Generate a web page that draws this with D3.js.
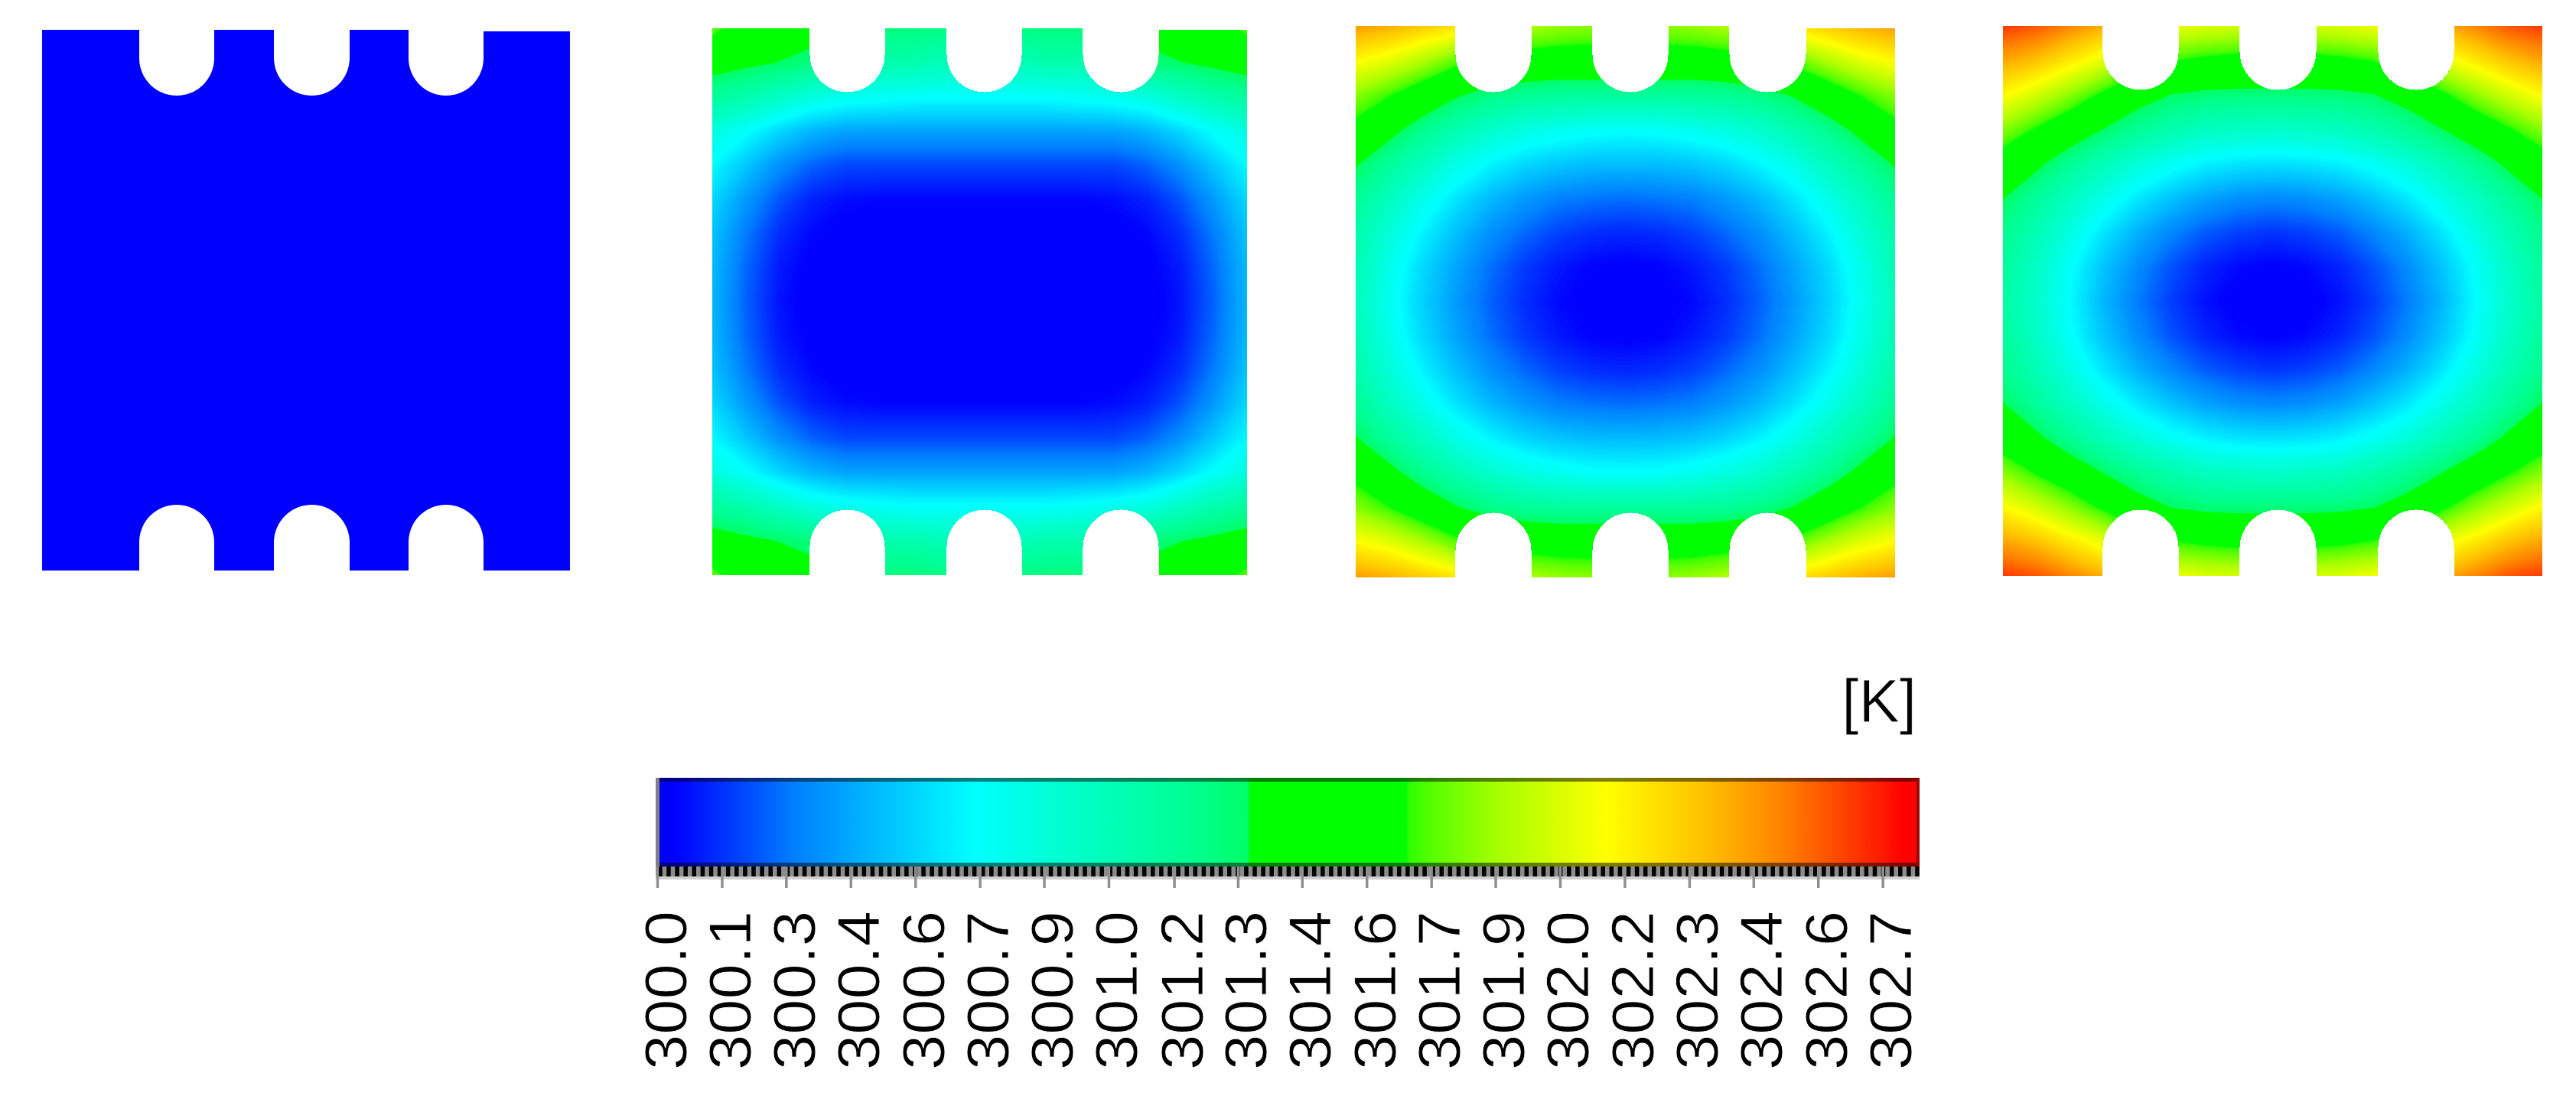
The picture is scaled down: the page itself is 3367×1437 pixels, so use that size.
<!DOCTYPE html>
<html>
<head>
<meta charset="utf-8">
<script src="https://cdn.jsdelivr.net/npm/d3@7"></script>
<style>
html,body{margin:0;padding:0;background:#fff;overflow:hidden}
svg{display:block}
text{font-family:"Liberation Sans",Arial,sans-serif;fill:#000}
</style>
</head>
<body>
<svg id="chart" width="3367" height="1437"></svg>
<script>
// ---- DATA ----------------------------------------------------------------
const unitLabel = "[K]";
const tickValues = [300.000,300.144,300.287,300.431,300.575,300.719,300.862,301.006,301.152,301.294,
                    301.437,301.581,301.725,301.868,302.012,302.156,302.300,302.443,302.587,302.731];
const colorKelvin = [300.000,300.041,300.194,300.309,300.479,300.708,300.899,301.195,301.315,301.322,
                     301.669,301.676,301.741,301.877,302.114,302.338,302.513,302.684,302.781,302.810];
const colorValues = ["#0000ff","#0000ff","#0048ff","#0080ff","#00b8ff","#00ffff","#00ffd0","#00ff90","#00ff68","#00ff00",
                     "#00ff00","#30ff00","#60ff00","#a8ff00","#ffff00","#ffc000","#ff8000","#ff3000","#ff0000","#ff0000"];

// Temperature, as a share of the colour-bar range.
// One quadrant per plate: rows run from the outer edge to mid-height, columns from the side edge to mid-width.
const plate1Levels = [
  [0,0,0,0,0,0,0,0,0],[0,0,0,0,0,0,0,0,0],[0,0,0,0,0,0,0,0,0],
  [0,0,0,0,0,0,0,0,0],[0,0,0,0,0,0,0,0,0],[0,0,0,0,0,0,0,0,0],
  [0,0,0,0,0,0,0,0,0],[0,0,0,0,0,0,0,0,0],[0,0,0,0,0,0,0,0,0]];
const plate2Levels = [
  [.62,.55,.52,.50,.46,.45,.45,.44,.43],
  [.51,.49,.47,.45,.40,.38,.38,.36,.35],
  [.41,.38,.34,.30,.28,.27,.26,.26,.26],
  [.30,.26,.21,.17,.15,.15,.15,.15,.15],
  [.25,.19,.13,.09,.07,.07,.07,.07,.07],
  [.21,.14,.08,.04,.025,.02,.02,.02,.02],
  [.185,.11,.05,.02,.005,0,0,0,0],
  [.175,.095,.035,.01,0,0,0,0,0],
  [.17,.09,.03,.005,0,0,0,0,0]];
const plate3Levels = [
  [.87,.85,.82,.79,.74,.68,.66,.65,.65],
  [.76,.73,.68,.62,.58,.56,.55,.55,.55],
  [.65,.60,.54,.48,.44,.42,.41,.41,.41],
  [.57,.50,.43,.375,.33,.30,.28,.265,.26],
  [.48,.41,.35,.29,.245,.21,.19,.18,.18],
  [.42,.35,.285,.225,.175,.14,.115,.105,.10],
  [.385,.31,.24,.18,.13,.095,.065,.05,.045],
  [.37,.285,.21,.15,.10,.06,.033,.017,.011],
  [.36,.275,.20,.14,.09,.05,.022,.006,0]];
const plate4Levels = [
  [.95,.93,.89,.85,.80,.74,.72,.71,.71],
  [.86,.83,.78,.73,.66,.60,.58,.57,.57],
  [.76,.71,.65,.58,.51,.47,.455,.45,.45],
  [.65,.59,.53,.47,.42,.38,.35,.34,.335],
  [.55,.49,.42,.36,.31,.27,.24,.225,.22],
  [.475,.41,.345,.285,.23,.185,.15,.13,.123],
  [.43,.365,.295,.225,.165,.12,.085,.065,.055],
  [.41,.34,.26,.185,.125,.078,.042,.022,.014],
  [.40,.33,.25,.17,.11,.062,.028,.007,0]];
const plateLevels = [plate1Levels, plate2Levels, plate3Levels, plate4Levels];

// ---- LAYOUT --------------------------------------------------------------
const plateLeft   = [55, 931, 1772, 2618];
const plateRight  = [745, 1630, 2477, 3323];
const plateTop    = [39, 37, 34, 34];
const plateBottom = [746, 752, 755, 753];
const rightTabDrop = [2, 2, 3, 0];
const topTip      = [125, 121, 121, 118];
const bottomTip   = [660, 666, 670, 666];
const slotEdges = [
  [182,280,358,457,534,632],
  [1058,1157,1237,1336,1415,1515],
  [1902,2002,2081,2181,2260,2361],
  [2748,2848,2927,3028,3108,3208]];

const barLeft = 862, barRight = 2505, barTop = 1017, barBottom = 1133, stripH = 5;
const scaleStartPx = 859, scaleEndPx = 2507;
const kelvinMin = 300, kelvinMax = 302.81;
const minorStepKelvin = 0.01893;

// ---- SCALES --------------------------------------------------------------
const levelToKelvin = d3.scaleLinear([0, 1], [kelvinMin, kelvinMax]);
const color = d3.scaleLinear().domain(colorKelvin).range(colorValues).interpolate(d3.interpolateRgb);
const xBar = d3.scaleLinear([kelvinMin, kelvinMax], [scaleStartPx, scaleEndPx]);

const svg = d3.select("#chart");
const defs = svg.append("defs");

// ---- PLATES --------------------------------------------------------------
function platePath(i) {
  const p = d3.path(), L = plateLeft[i], R = plateRight[i], T = plateTop[i], B = plateBottom[i], s = slotEdges[i];
  p.moveTo(L, T);
  for (let k = 0; k < 6; k += 2) {
    const r = (s[k + 1] - s[k]) / 2, c = s[k] + r;
    p.lineTo(s[k], T);
    p.lineTo(s[k], topTip[i] - r);
    p.arc(c, topTip[i] - r, r, Math.PI, 0, true);
    p.lineTo(s[k + 1], k === 4 ? T + rightTabDrop[i] : T);
  }
  p.lineTo(R, T + rightTabDrop[i]);
  p.lineTo(R, B);
  for (let k = 4; k >= 0; k -= 2) {
    const r = (s[k + 1] - s[k]) / 2, c = s[k] + r;
    p.lineTo(s[k + 1], B);
    p.lineTo(s[k + 1], bottomTip[i] + r);
    p.arc(c, bottomTip[i] + r, r, 0, -Math.PI, true);
    p.lineTo(s[k], B);
  }
  p.lineTo(L, B);
  p.closePath();
  return p.toString();
}

const thresholds = d3.range(0.004, 1, 0.004);

plateLevels.forEach((quadrant, i) => {
  const rows = quadrant.concat(quadrant.slice(0, -1).reverse())
    .map(r => r.concat(r.slice(0, -1).reverse()));
  const n = rows[0].length, m = rows.length;
  const grid = rows.flat();

  defs.append("clipPath").attr("id", "plate" + i).append("path").attr("d", platePath(i));
  const g = svg.append("g").attr("clip-path", `url(#plate${i})`);

  const sx = d3.scaleLinear([0.5, n - 0.5], [plateLeft[i], plateRight[i]]);
  const sy = d3.scaleLinear([0.5, m - 0.5], [plateTop[i], plateBottom[i]]);
  const path = d3.geoPath(d3.geoTransform({
    point(x, y) { this.stream.point(sx(x), sy(y)); }
  }));

  g.append("rect")
    .attr("x", plateLeft[i]).attr("y", plateTop[i])
    .attr("width", plateRight[i] - plateLeft[i]).attr("height", plateBottom[i] - plateTop[i])
    .attr("fill", color(levelToKelvin(0)));

  g.selectAll("path")
    .data(d3.contours().size([n, m]).smooth(true).thresholds(thresholds)(grid).filter(c => c.coordinates.length))
    .join("path")
    .attr("d", path)
    .attr("fill", d => color(levelToKelvin(d.value)));
});

// ---- COLOUR BAR ----------------------------------------------------------
const grad = defs.append("linearGradient").attr("id", "barGrad")
  .attr("gradientUnits", "userSpaceOnUse")
  .attr("x1", scaleStartPx).attr("x2", scaleEndPx).attr("y1", 0).attr("y2", 0);
colorKelvin.forEach((k, i) => {
  grad.append("stop")
    .attr("offset", (xBar(k) - scaleStartPx) / (scaleEndPx - scaleStartPx))
    .attr("stop-color", colorValues[i]);
});

const bar = svg.append("g");
bar.append("rect").attr("x", barLeft).attr("y", barTop)
  .attr("width", barRight - barLeft).attr("height", barBottom - barTop).attr("fill", "url(#barGrad)");
bar.append("rect").attr("x", barLeft).attr("y", barTop)
  .attr("width", barRight - barLeft).attr("height", stripH).attr("fill", "rgba(0,0,0,0.5)");
bar.append("rect").attr("x", barLeft).attr("y", barBottom - stripH)
  .attr("width", barRight - barLeft).attr("height", stripH).attr("fill", "rgba(0,0,0,0.5)");
bar.append("rect").attr("x", barLeft - 5).attr("y", barTop)
  .attr("width", 5).attr("height", barBottom - barTop).attr("fill", "#808080");
bar.append("rect").attr("x", barRight).attr("y", barTop)
  .attr("width", 4).attr("height", barBottom - barTop).attr("fill", "#9c0808");

// minor tick comb
bar.append("rect").attr("x", barLeft - 5).attr("y", barBottom)
  .attr("width", barRight - barLeft + 9).attr("height", 13).attr("fill", "#8c8c8c");
bar.append("rect").attr("x", barLeft - 5).attr("y", barBottom + 13)
  .attr("width", barRight - barLeft + 9).attr("height", 4).attr("fill", "#cfcfcf");
const minorTicks = d3.range(kelvinMin + 0.0066, kelvinMax, minorStepKelvin);
bar.selectAll("line.minor").data(minorTicks).join("line")
  .attr("class", "minor")
  .attr("x1", d => xBar(d)).attr("x2", d => xBar(d))
  .attr("y1", barBottom).attr("y2", barBottom + 13)
  .attr("stroke", "#000").attr("stroke-width", 5.5);

// major ticks + labels
const axis = d3.axisBottom(xBar).tickValues(tickValues).tickFormat(d3.format(".1f")).tickSize(28).tickSizeOuter(0);
const axisG = svg.append("g").attr("transform", `translate(0,${barBottom})`).call(axis);
axisG.select(".domain").remove();
axisG.selectAll(".tick line").attr("stroke", "#909090").attr("stroke-width", 3.5);
axisG.selectAll(".tick text")
  .attr("x", 0).attr("y", 0).attr("dy", null)
  .attr("text-anchor", "start")
  .attr("transform", `translate(37,266) rotate(-90)`)
  .attr("font-size", 78)
  .attr("textLength", 208)
  .attr("lengthAdjust", "spacingAndGlyphs")
  .style("font-family", '"Liberation Sans",Arial,sans-serif')
  .style("fill", "#000")
  .style("stroke", "#fff").style("stroke-width", 0.8);

svg.append("text")
  .attr("x", 2505).attr("y", 944)
  .attr("text-anchor", "end")
  .attr("font-size", 80)
  .style("stroke", "#fff").style("stroke-width", 0.8)
  .text(unitLabel);
</script>
</body>
</html>
